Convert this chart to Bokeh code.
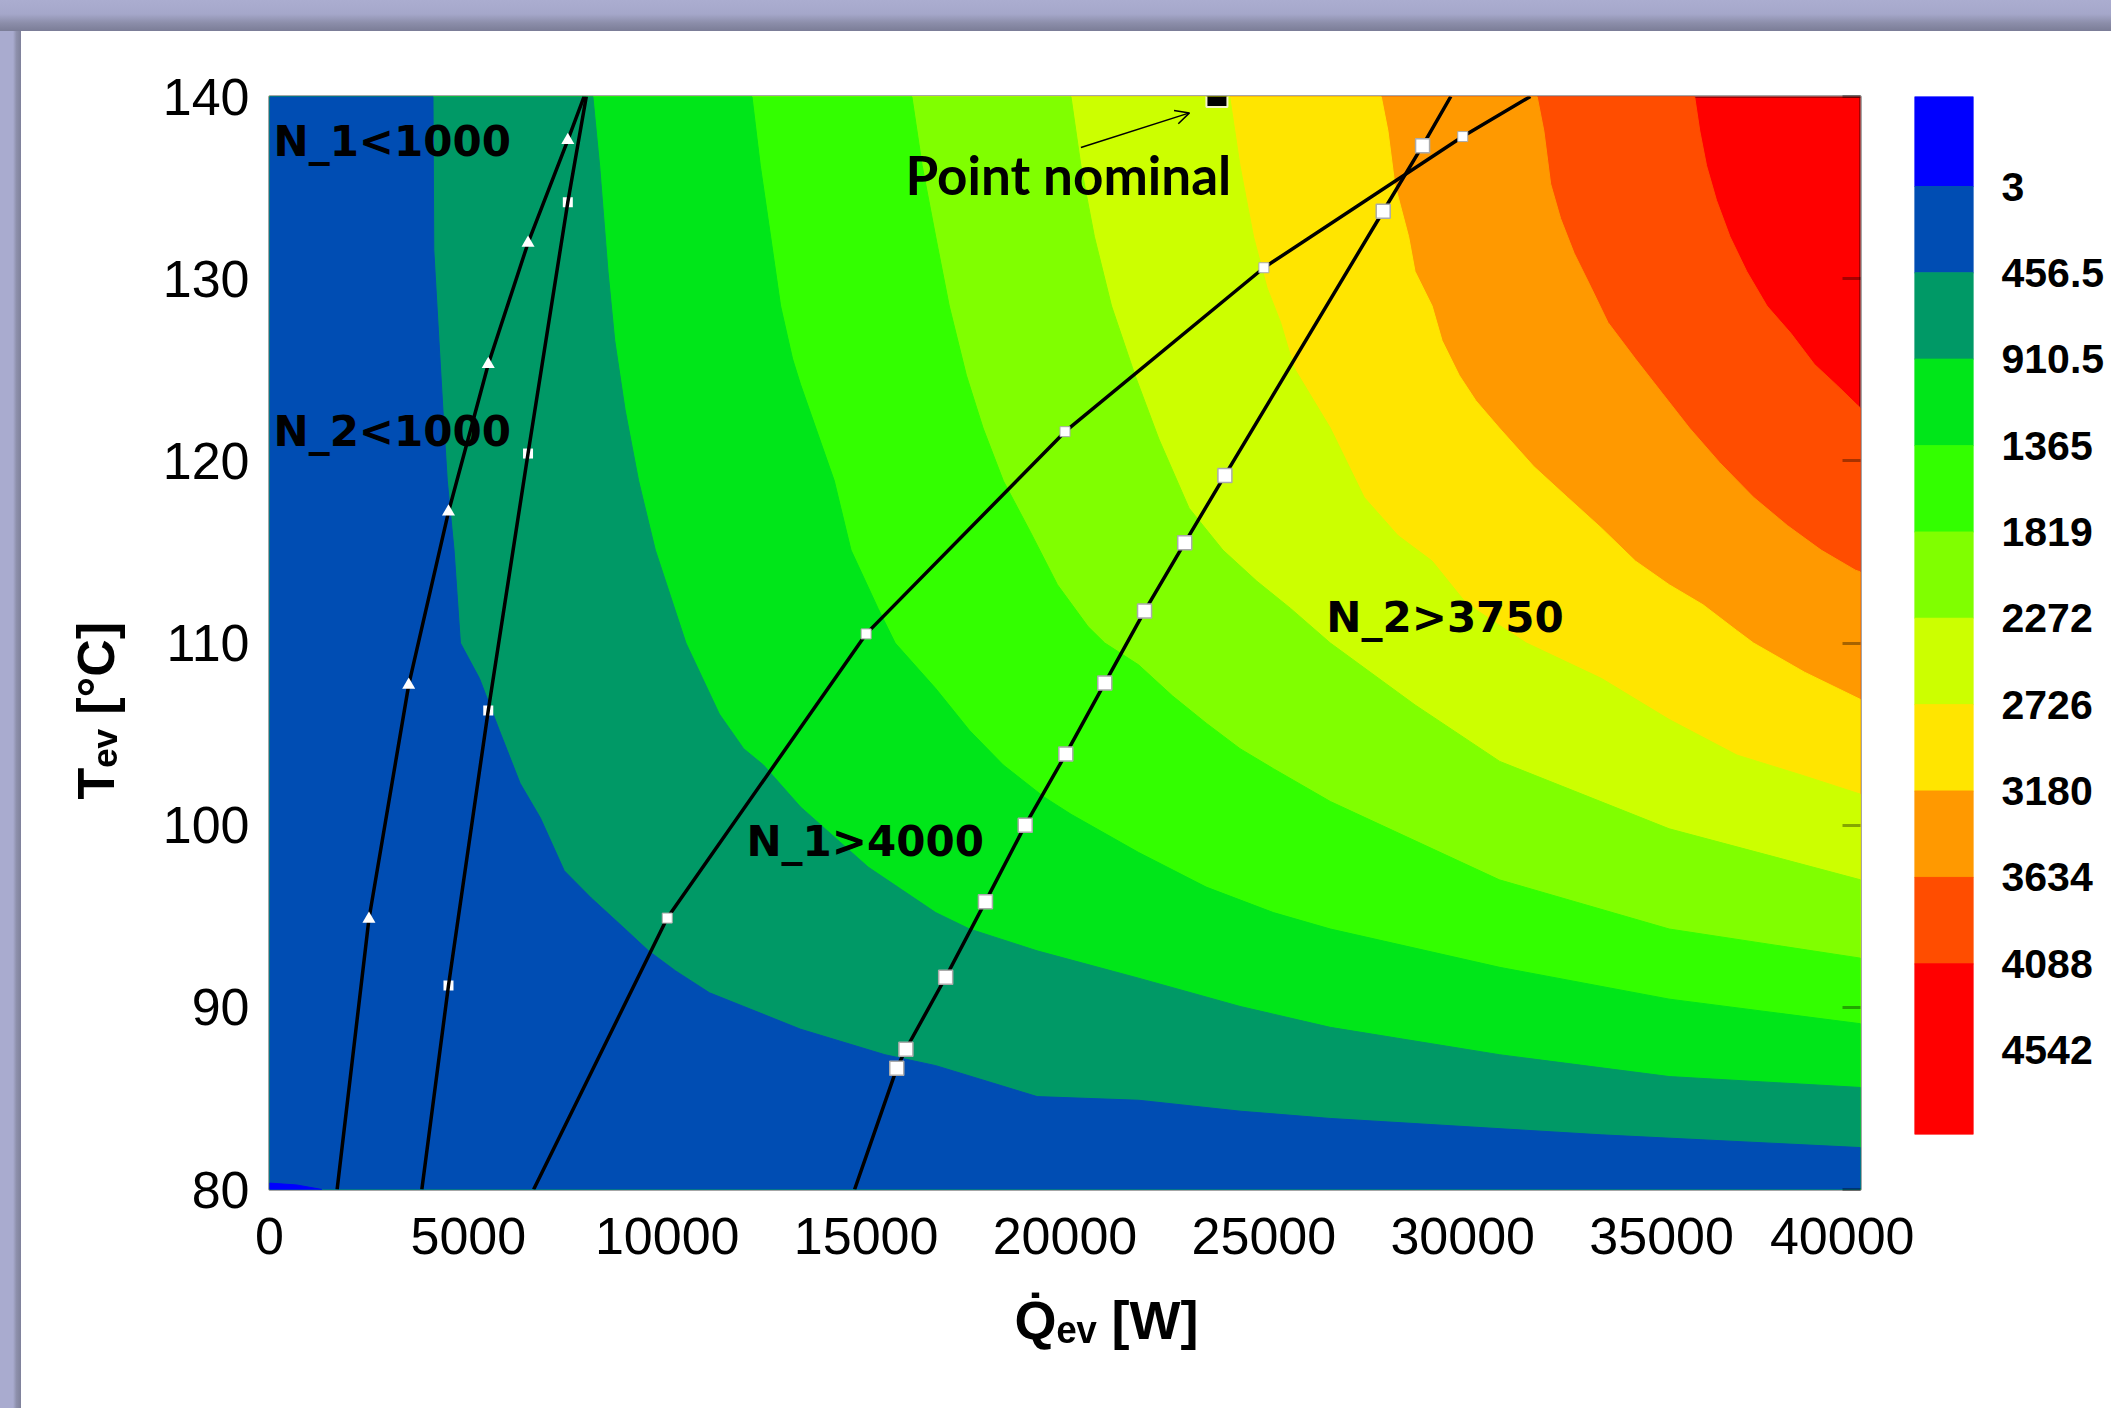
from bokeh.plotting import figure
from bokeh.models import (Range1d, LinearAxis, FixedTicker, Label, Title,
                          ColumnDataSource, Arrow, OpenHead, Div)
from bokeh.layouts import column, row
from bokeh.embed import file_html
from bokeh.resources import INLINE

# ---------------- data ----------------
x_ticks = [0, 5000, 10000, 15000, 20000, 25000, 30000, 35000, 40000]
y_ticks = [80, 90, 100, 110, 120, 130, 140]

levels = [3, 456.5, 910.5, 1365, 1819, 2272, 2726, 3180, 3634, 4088, 4542]
level_labels = ["3", "456.5", "910.5", "1365", "1819", "2272", "2726", "3180", "3634", "4088", "4542"]
band_colors = ["#0000ff", "#004db3", "#009966", "#00e619", "#33ff00", "#80ff00",
               "#ccff00", "#ffe500", "#ff9900", "#ff4d00", "#ff0000"]
field_min, field_max = -470, 4985

# contour boundaries (Q [W], T [C])
b3_q = [0, 680, 1320]
b3_t = [80.35, 80.25, 80.0]
b456_q = [4110, 4130, 4260, 4360, 4470, 4640, 4800, 5280, 5780, 6300, 6810, 7410, 8090, 8940,
          9530, 10210, 11060, 11920, 13350, 15470, 16750, 19300, 21850, 24400, 26670, 33490, 40000]
b456_t = [140, 131.6, 126.6, 122.8, 118.9, 115.1, 110.0, 108.05, 105.2, 102.3, 100.4, 97.5, 96.0, 94.3,
          93.1, 92.0, 90.8, 90.05, 88.8, 87.4, 86.8, 85.1, 84.9, 84.3, 83.9, 83.0, 82.3]
b910_q = [8130, 8300, 8510, 8680, 8940, 9280, 9700, 10470, 11310, 11920, 12420, 13350, 15050,
          16750, 17600, 19300, 21850, 24400, 26670, 30920, 35190, 40000]
b910_t = [140, 136.2, 130.4, 126.6, 122.8, 118.9, 115.1, 110.0, 106.1, 104.2, 103.3, 101.0, 97.7,
          95.2, 94.3, 93.1, 91.6, 90.05, 88.9, 87.4, 86.2, 85.6]
b1365_q = [12130, 12340, 12600, 12850, 13150, 13350, 14200, 14620, 15300, 15730, 16750, 17600,
           18450, 19470, 20150, 21850, 23550, 25240, 26670, 30920, 35190, 40000]
b1365_t = [140, 136.2, 132.3, 128.5, 125.6, 124.2, 118.9, 115.1, 111.9, 110.0, 107.5, 105.2,
           103.3, 101.55, 100.6, 98.5, 96.6, 95.2, 94.3, 92.2, 90.45, 89.1]
b1819_q = [16150, 16410, 16750, 17090, 17520, 17940, 18450, 19130, 19810, 20580, 21000, 21850,
           22700, 23550, 24400, 25240, 26670, 30920, 35190, 40000]
b1819_t = [140, 136.2, 132.3, 128.5, 124.7, 121.8, 118.9, 116.1, 113.2, 110.9, 110.0, 108.8,
           107.1, 105.6, 104.2, 103.1, 101.3, 97.0, 94.3, 92.7]
b2272_q = [20150, 20400, 20740, 21170, 21760, 22360, 23120, 23970, 24820, 25670, 26670, 28800,
           30930, 35190, 40000]
b2272_t = [140, 136.2, 132.3, 128.5, 124.7, 121.2, 117.4, 115.1, 113.4, 111.9, 110.0, 106.6,
           103.5, 99.8, 97.0]
b2726_q = [24140, 24400, 24740, 25080, 25420, 25760, 26670, 27520, 28370, 29230, 30080, 30900,
           31600, 33490, 35190, 36890, 38590, 40000]
b2726_t = [140, 136.2, 132.3, 129.5, 127.6, 125.1, 121.8, 118.0, 115.9, 114.5, 112.2, 111.0,
           110.0, 108.05, 105.8, 103.85, 102.7, 101.7]
b3180_q = [27950, 28120, 28290, 28640, 28800, 29230, 29480, 29910, 30330, 30920, 31780, 32630,
           33490, 34340, 35190, 36040, 36880, 37310, 38590, 40000]
b3180_t = [140, 138.1, 135.2, 132.3, 130.4, 128.5, 126.6, 124.7, 123.3, 121.8, 119.7, 118.0,
           116.3, 114.5, 113.2, 112.1, 110.7, 110.0, 108.4, 106.9]
b3634_q = [31870, 32040, 32210, 32460, 32800, 33230, 33650, 34340, 35020, 35700, 36460, 37310,
           38160, 39010, 39870, 40000]
b3634_t = [140, 138.1, 135.2, 133.3, 131.4, 129.5, 127.6, 125.6, 123.7, 121.8, 119.9, 118.0,
           116.45, 115.1, 114.0, 113.9]
b4088_q = [35830, 35960, 36130, 36380, 36720, 37140, 37650, 38250, 38840, 39430, 39900, 40000]
b4088_t = [140, 138.1, 136.2, 134.3, 132.3, 130.4, 128.5, 127.0, 125.3, 124.1, 123.1, 122.9]

# constraint curves
lineA_q = [1700, 2500, 3500, 4500, 5500, 6500, 7500, 7910]       # N_1<1000 (triangles)
lineA_t = [80, 94.85, 107.7, 117.2, 125.3, 131.96, 137.6, 140]
lineB_q = [3830, 4500, 5500, 6500, 7500, 7965]                   # N_2<1000
lineB_t = [80, 91.2, 106.3, 120.4, 134.2, 140]
lineC_q = [6640, 10000, 15000, 20000, 25000, 30000, 31700]       # N_1>4000
lineC_t = [80, 94.9, 110.5, 121.6, 130.6, 137.8, 140]
lineD_q = [14710, 15770, 16000, 17000, 18000, 19000, 20020, 21000, 22000, 23010, 24020,
           28000, 28990, 29700]                                   # N_2>3750
lineD_t = [80, 86.65, 87.7, 91.65, 95.8, 100.0, 103.9, 107.8, 111.75, 115.5, 119.2,
           133.7, 137.3, 140]

nominal_q = [23820]
nominal_t = [140]

# ---------------- main plot ----------------
q_min, q_max = 0, 40000
t_min, t_max = 80, 140

p = figure(frame_width=1591, frame_height=1093, min_border_left=248, min_border_right=54,
           min_border_top=65, min_border_bottom=219,
           x_range=Range1d(q_min, q_max), y_range=Range1d(t_min, t_max),
           toolbar_location=None, output_backend="svg")
p.margin = 0
p.grid.visible = False
p.background_fill_color = band_colors[-1]
p.border_fill_color = "white"
p.outline_line_color = "black"
p.outline_line_alpha = 0.35
p.outline_line_width = 3

for ax in (p.xaxis[0], p.yaxis[0]):
    ax.axis_line_color = None
    ax.major_tick_line_color = None
    ax.minor_tick_line_color = None
    ax.major_label_text_font = "Liberation Sans"
    ax.major_label_text_font_size = "52px"
    ax.major_label_text_color = "black"
p.xaxis[0].ticker = FixedTicker(ticks=x_ticks)
p.yaxis[0].ticker = FixedTicker(ticks=y_ticks)
p.xaxis[0].major_label_standoff = 22
p.yaxis[0].major_label_standoff = 14

ax_r = LinearAxis(ticker=FixedTicker(ticks=y_ticks), axis_line_color=None,
                  major_tick_in=18, major_tick_out=0, major_tick_line_color="black",
                  major_tick_line_alpha=0.35, major_tick_line_width=3,
                  minor_tick_line_color=None, major_label_text_color=None)
p.add_layout(ax_r, "right")

# axis titles (subscripts as Unicode subscript letters)
p.add_layout(Title(text="Q\u0307\u2091\u1d65 [W]", align="left", offset=745, standoff=62,
                   text_font="Liberation Sans", text_font_size="54px",
                   text_font_style="bold", text_color="black"), "below")
p.add_layout(Title(text="T\u2091\u1d65 [°C]", align="left", offset=390, standoff=70,
                   text_font="Liberation Sans", text_font_size="52px",
                   text_font_style="bold", text_color="black"), "left")

# filled contour bands (drawn from highest level downward)
bounds = [(b4088_q, b4088_t, band_colors[9]), (b3634_q, b3634_t, band_colors[8]),
          (b3180_q, b3180_t, band_colors[7]), (b2726_q, b2726_t, band_colors[6]),
          (b2272_q, b2272_t, band_colors[5]), (b1819_q, b1819_t, band_colors[4]),
          (b1365_q, b1365_t, band_colors[3]), (b910_q, b910_t, band_colors[2]),
          (b456_q, b456_t, band_colors[1]), (b3_q, b3_t, band_colors[0])]
xs, ys, cs = [], [], []
for q, t, c in bounds:
    xs.append([q_min] + q + [q[-1], q_min])
    ys.append([t[0]] + t + [t_min, t_min])
    cs.append(c)
p.patches("xs", "ys", source=ColumnDataSource(dict(xs=xs, ys=ys, c=cs)),
          fill_color="c", line_color="c", line_width=1)

# markers under line B
p.scatter(lineB_q[1:-1], lineB_t[1:-1], marker="square", size=10, fill_color="white",
          line_color=None)
for lq, lt in ((lineA_q, lineA_t), (lineB_q, lineB_t), (lineC_q, lineC_t), (lineD_q, lineD_t)):
    p.line(lq, lt, line_color="black", line_width=3.5)
p.scatter(lineA_q[1:-1], lineA_t[1:-1], marker="triangle", size=13, fill_color="white",
          line_color=None)
p.scatter(lineC_q[1:-1], lineC_t[1:-1], marker="square", size=10, fill_color="white",
          line_color="#aaaaaa", line_width=1)
p.scatter(lineD_q[1:-1], lineD_t[1:-1], marker="square", size=14, fill_color="white",
          line_color="#aaaaaa", line_width=1.5)
p.scatter(nominal_q, nominal_t, marker="square", size=21, fill_color="black",
          line_color="#f4f4c8", line_width=2)

p.add_layout(Arrow(end=OpenHead(size=14, line_width=1.5, line_color="black"),
                   x_start=20400, y_start=137.2, x_end=23130, y_end=139.1,
                   line_width=1.5, line_color="black"))

def note(x, y, text, size, font, style):
    p.add_layout(Label(x=x, y=y, text=text, text_font=font, text_font_size=size,
                       text_font_style=style, text_color="black", text_align="left",
                       text_baseline="alphabetic"))

note(100, 137.53, "N_1<1000", "42px", "DejaVu Sans", "bold")
note(100, 121.6, "N_2<1000", "42px", "DejaVu Sans", "bold")
note(11990, 99.1, "N_1>4000", "42px", "DejaVu Sans", "bold")
note(26570, 111.4, "N_2>3750", "42px", "DejaVu Sans", "bold")
note(15990, 135.7, "Point nominal", "53px", "Lato", "bold")

# ---------------- colour bar ----------------
cb = figure(frame_width=59, frame_height=1038, min_border_left=0, min_border_right=138,
            min_border_top=64, min_border_bottom=275,
            x_range=Range1d(0, 1), y_range=Range1d(field_max, field_min),
            x_axis_location=None, y_axis_location="right",
            toolbar_location=None, output_backend="svg")
cb.margin = 0
cb.grid.visible = False
cb.outline_line_color = None
edges = [field_min] + levels[:-1] + [field_max]
cb.quad(left=0, right=1, top=edges[:-1], bottom=edges[1:], fill_color=band_colors,
        line_color=band_colors)
cax = cb.yaxis[0]
cax.ticker = FixedTicker(ticks=levels)
cax.major_label_overrides = {lv: lb for lv, lb in zip(levels, level_labels)}
cax.axis_line_color = None
cax.major_tick_line_color = None
cax.minor_tick_line_color = None
cax.major_label_standoff = 22
cax.major_label_text_font = "Liberation Sans"
cax.major_label_text_font_style = "bold"
cax.major_label_text_font_size = "41px"
cax.major_label_text_color = "black"

# ---------------- slide frame ----------------
top_band = Div(text="", width=2111, height=31, margin=0,
               styles={"background": "linear-gradient(to bottom, #abadd0 0%, #a5a7ca 45%, #8b8da9 75%, #7b7d97 100%)"})
left_band = Div(text="", width=21, height=1377, margin=0,
                styles={"background": "linear-gradient(to right, #a9abcf 0%, #a9abcf 62%, #8e90ac 78%, #7f819b 100%)"})

layout = column(top_band, row(left_band, p, cb, spacing=0), spacing=0)
open("out.html", "w").write(file_html(layout, INLINE))
